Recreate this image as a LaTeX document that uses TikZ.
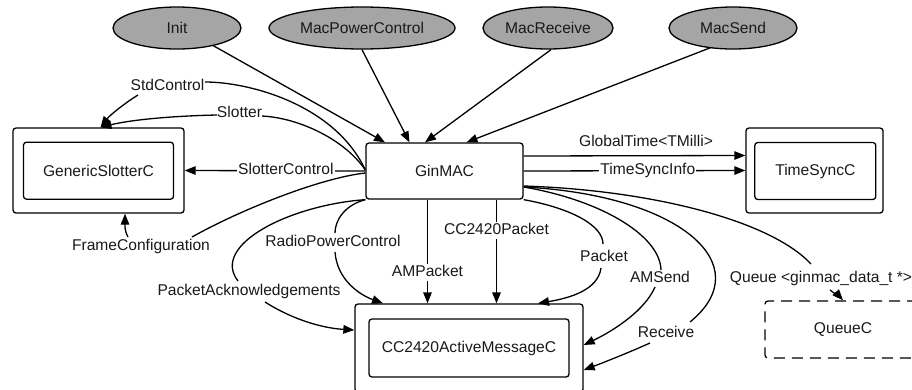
\documentclass[tikz,border=0pt]{standalone}
\usepackage{fontspec}
\setmainfont{Liberation Sans}
\usetikzlibrary{arrows.meta,shapes.geometric}
\definecolor{ellgray}{RGB}{165,165,165}
\definecolor{txt}{RGB}{25,25,25}
\begin{document}
\begin{tikzpicture}[x=1pt,y=-1pt,
  every node/.style={font=\fontsize{15.6}{18}\selectfont, text=txt},
  ell/.style={ellipse, draw, fill=ellgray, line width=1.3pt, minimum height=42pt, inner sep=0pt},
  comp/.style={draw, rounded corners=3pt, line width=1.3pt, inner sep=0pt},
  lbl/.style={inner sep=1pt, text height=11.5pt, text depth=3.5pt},
  wlbl/.style={lbl, fill=white},
  conn/.style={line width=1.3pt},
  arr/.style={line width=1.3pt, -{Triangle[length=11pt,width=8.5pt]}},
]
\useasboundingbox (0,0) rectangle (912,389);

% interface ellipses
\node[ell, minimum width=128pt] (init) at (177,28) {Init};
\node[ell, minimum width=186pt] (mpc) at (362,28) {MacPowerControl};
\node[ell, minimum width=130pt] (mrcv) at (548,28) {MacReceive};
\node[ell, minimum width=128pt] (msend) at (733,28) {MacSend};

% components
\node[comp, minimum width=157pt, minimum height=56pt] (gin) at (444.5,171) {GinMAC};
\node[comp, minimum width=171pt, minimum height=85pt] (slotO) at (98.5,170.5) {};
\node[comp, minimum width=150pt, minimum height=57pt] (slotI) at (98.5,170.7) {GenericSlotterC};
\node[comp, minimum width=137pt, minimum height=85pt] (tsO) at (814.5,170.5) {};
\node[comp, minimum width=121pt, minimum height=57pt] (tsI) at (815.3,171) {TimeSyncC};
\node[comp, minimum width=228pt, minimum height=88pt] (ccO) at (469,348) {};
\node[comp, minimum width=200pt, minimum height=58pt] (ccI) at (469,348) {CC2420ActiveMessageC};
\node[comp, dash pattern=on 11pt off 7pt, minimum width=156pt, minimum height=57pt] (queue) at (843,329.5) {QueueC};

% labels
\node[lbl] (lStd) at (167.5,86) {StdControl};
\node[lbl] (lSlot) at (239.5,113) {Slotter};
\node[lbl] (lFrame) at (141,246.5) {FrameConfiguration};
\node[lbl] (lRPC) at (333,242) {RadioPowerControl};
\node[lbl] (lPA) at (249,291) {PacketAcknowledgements};
\node[lbl] (lPkt) at (604,257) {Packet};
\node[lbl] (lAMS) at (660,278) {AMSend};
\node[lbl] (lRcv) at (666,333.5) {Receive};
\node[lbl] (lQ) at (821,278.5) {Queue <ginmac\_data\_t *>};
\node[lbl] (lGT) at (646,142.5) {GlobalTime<TMilli>};

% ellipses to GinMAC
\draw[arr] ([shift={(36,17.5)}]init.center) -- ([xshift=-59.5pt]gin.north);
\draw[arr] (mpc.south) -- ([xshift=-35pt]gin.north);
\draw[arr] ([xshift=3pt]mrcv.south) -- ([xshift=-19.5pt]gin.north);
\draw[arr] ([shift={(-22,19.5)}]msend.center) -- ([xshift=22pt]gin.north);

% to GenericSlotterC
\draw[conn] ([shift={(0,-1)}]gin.west) .. controls (335,105) and (250,82) .. ([shift={(37.5,-4)}]lStd.center);
\draw[arr] ([shift={(-29.5,9)}]lStd.center) .. controls (125,103) and (110,115) .. ([xshift=2pt]slotO.north);
\draw[conn] ([shift={(0,-1)}]gin.west) .. controls (345,140) and (300,118) .. ([shift={(22.5,3)}]lSlot.center);
\draw[arr] ([shift={(-22.5,2)}]lSlot.center) .. controls (170,116) and (130,120) .. ([xshift=2pt]slotO.north);
\draw[arr] (gin.west) -- (slotO.east) node[wlbl, pos=0.44] (lSC) {SlotterControl};
\draw[conn] ([shift={(0,2)}]gin.west) .. controls (320,178) and (240,210) .. ([shift={(51,-9.5)}]lFrame.center);
\draw[arr] ([shift={(-13,-9.5)}]lFrame.center) .. controls (124,230) and (125,222) .. ([xshift=26.5pt]slotO.south);

% to CC2420ActiveMessageC
\draw[conn] (gin.south west) .. controls (345,205) and (335,220) .. ([shift={(2,-9)}]lRPC.center);
\draw[arr] ([shift={(2,10)}]lRPC.center) .. controls (337,280) and (360,295) .. ([xshift=-86pt]ccO.north);
\draw[conn] (gin.south west) .. controls (290,205) and (210,245) .. ([shift={(-11,-10)}]lPA.center);
\draw[arr] ([shift={(16,11)}]lPA.center) .. controls (290,318) and (320,328) .. ([yshift=18pt]ccO.west);
\draw[arr] ([xshift=-17pt]gin.south) -- ([xshift=-41.5pt]ccO.north) node[wlbl, pos=0.70] (lAMP) {AMPacket};
\draw[arr] ([xshift=52pt]gin.south) -- ([xshift=27.5pt]ccO.north) node[wlbl, pos=0.30] (lCCP) {CC2420Packet};
\draw[conn] (gin.south east) .. controls (570,208) and (603,225) .. ([shift={(-1,-13)}]lPkt.center);
\draw[arr] ([shift={(-3,11)}]lPkt.center) .. controls (598,290) and (570,298) .. ([xshift=69pt]ccO.north);
\draw[conn] ([yshift=-16pt]gin.east) .. controls (600,200) and (660,235) .. ([shift={(1,-8)}]lAMS.center);
\draw[arr] ([shift={(-5,9)}]lAMS.center) .. controls (645,310) and (615,330) .. ([yshift=3pt]ccO.east);
\draw[conn] ([yshift=-16pt]gin.east) .. controls (680,195) and (760,265) .. ([shift={(24,-11.5)}]lRcv.center);
\draw[arr] ([shift={(-16,9.5)}]lRcv.center) .. controls (630,352) and (605,362) .. ([yshift=-22pt]ccO.east);

% to QueueC
\draw[conn] ([yshift=-15pt]gin.east) .. controls (650,190) and (770,220) .. ([shift={(-10,-14.5)}]lQ.center);
\draw[arr] ([shift={(9,11.5)}]lQ.center) .. controls (835,294) and (840,297) .. (queue.north);

% to TimeSyncC
\draw[arr] ([yshift=15pt]gin.east) -- ([yshift=15pt]tsO.west);
\draw[arr] (gin.east) -- (tsO.west) node[wlbl, pos=0.56] (lTSI) {TimeSyncInfo};
\end{tikzpicture}
\end{document}
